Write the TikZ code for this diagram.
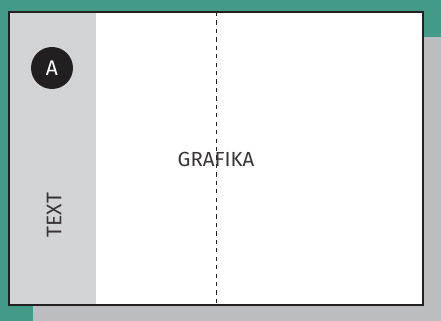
\documentclass[tikz,border=0pt]{standalone}
\usepackage{fontspec}
\setmainfont{Fira Sans}
\usepackage{xcolor}
\definecolor{teal}{HTML}{429A87}
\definecolor{bggray}{HTML}{BCBDC0}
\definecolor{sidegray}{HTML}{D3D4D6}
\definecolor{ink}{HTML}{231F20}
\begin{document}
\begin{tikzpicture}[x=0.025cm, y=-0.025cm]

\def\w{441} % image width
\def\h{321} % image height
\def\side{96} % sidebar edge
\def\mid{216} % fold line

% Background
\fill[teal] (0,0) rectangle (\w,\h);
\fill[bggray] (33,37) rectangle (\w,\h);

% Page
\fill[white] (9,12) rectangle (423,305);
% Sidebar
\fill[sidegray] (9,12) rectangle (\side,305);
% Fold
\draw[ink, dashed, thin] (\mid,12) -- (\mid,305);
% Frame
\draw[ink, line width=0.8pt] (9,12) rectangle (423,305);

% Badge
\node[circle, fill=ink, minimum size=42*0.025cm, inner sep=0pt, text=white, font=\fontsize{15}{17}\selectfont] (badge) at (52,68) {A};
% Labels
\node[rotate=90, text=ink!90, font=\fontsize{15}{17}\selectfont] (text) at (54,215) {TEXT};
\node[text=ink!90, font=\fontsize{14.5}{17}\selectfont] (grafika) at (216,159) {GRAFIKA};

\end{tikzpicture}
\end{document}
